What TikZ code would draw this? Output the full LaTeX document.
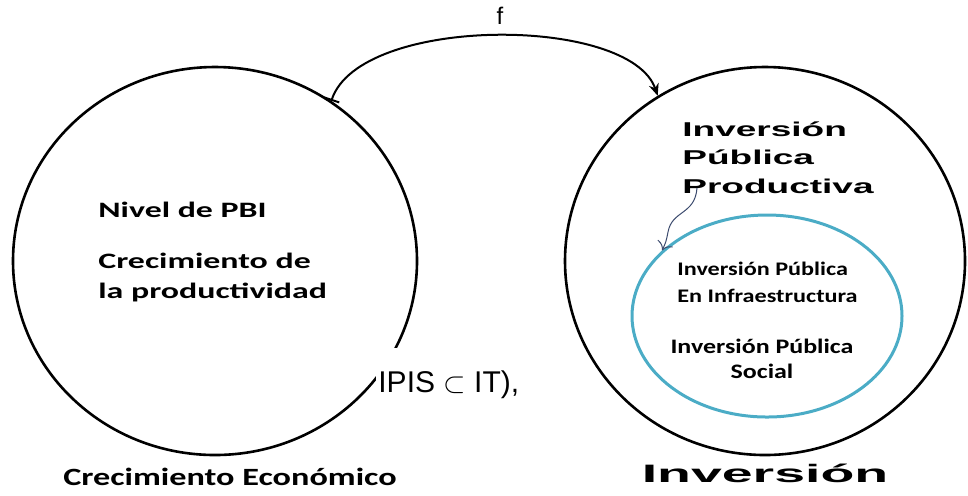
\documentclass[tikz,border=0pt]{standalone}
\usepackage{fontspec}
\setmainfont{Carlito}
\newfontfamily\pbifont{Carlito}[FakeStretch=1.54]
\newfontfamily\subfont{Carlito}[FakeStretch=1.26]
\newfontfamily\capfont{Carlito}[FakeStretch=1.38]
\newfontfamily\widefont{Liberation Sans}[FakeStretch=1.85]
\newfontfamily\widerfont{Liberation Sans}[FakeStretch=2.2]
\newfontfamily\arialfont{Liberation Sans}
\usepackage{tikz}
\usetikzlibrary{arrows.meta,shapes.geometric,positioning}
\definecolor{tealblue}{RGB}{75,172,198}
\definecolor{wavyblue}{RGB}{60,75,110}
\tikzset{
  conjunto/.style={ellipse, draw=black, line width=1.3pt, inner sep=0pt},
  subconjunto/.style={ellipse, draw=tealblue, line width=1.5pt, inner sep=0pt},
  texto/.style={inner sep=0pt, text=black}
}

\begin{document}
\begin{tikzpicture}[x=0.5pt, y=-0.5pt]
\useasboundingbox (0,0) rectangle (968,495);
\node[conjunto, minimum width=202pt, minimum height=194pt] (crec) at (215,261) {};
\node[conjunto, minimum width=200pt, minimum height=194pt] (inv) at (765,261) {};
\node[subconjunto, minimum width=135pt, minimum height=101pt] (ip) at (767,316) {};

\node[texto, anchor=base west, font=\pbifont\bfseries\fontsize{11}{15}\selectfont] (pbi) at (98,217) {Nivel de PBI};
\node[texto, anchor=base west, align=left, font=\pbifont\bfseries\fontsize{11}{15}\selectfont] (prod) at (98,298) {Crecimiento de\\la productividad};
\node[texto, anchor=base west, fill=white, inner xsep=1pt, text height=22pt, text depth=3pt, font=\arialfont\fontsize{15}{18}\selectfont] (ipis) at (376,392) {IPIS $\subset$ IT),};

\node[texto, anchor=base west, align=left, font=\widefont\bfseries\fontsize{10}{14.25}\selectfont] (ipp) at (682,193) {Inversión\\Pública\\Productiva};
\node[texto, anchor=base west, align=left, font=\subfont\bfseries\fontsize{9.6}{13.5}\selectfont] (ipinf) at (677,302) {Inversión Pública\\ En Infraestructura};
\node[texto, anchor=base, align=center, font=\subfont\bfseries\fontsize{10.3}{12.5}\selectfont] (ipsoc) at (762,378) {Inversión Pública\\Social};

\node[texto, anchor=base, font=\arialfont\fontsize{12}{14}\selectfont] (f) at (500,24) {f};
\node[texto, anchor=base, font=\capfont\bfseries\fontsize{12.4}{15}\selectfont] (lblcrec) at (230,485) {Crecimiento Económico};
\node[texto, anchor=base, font=\widerfont\bfseries\fontsize{12.6}{15}\selectfont] (lblinv) at (765,482) {Inversión};

\draw[line width=1pt, {Bar[width=8pt]}-{Stealth[length=6pt,width=5pt]}] (crec.54) .. controls (360,15) and (630,15) .. (inv.123);
\coordinate (pstem) at (697,188);
\draw[wavyblue, line width=0.5pt, -{To[length=4pt]}] (pstem) .. controls (695,215) and (672,210) .. (668,232) .. controls (666,242) .. (ip.148);
\end{tikzpicture}
\end{document}
